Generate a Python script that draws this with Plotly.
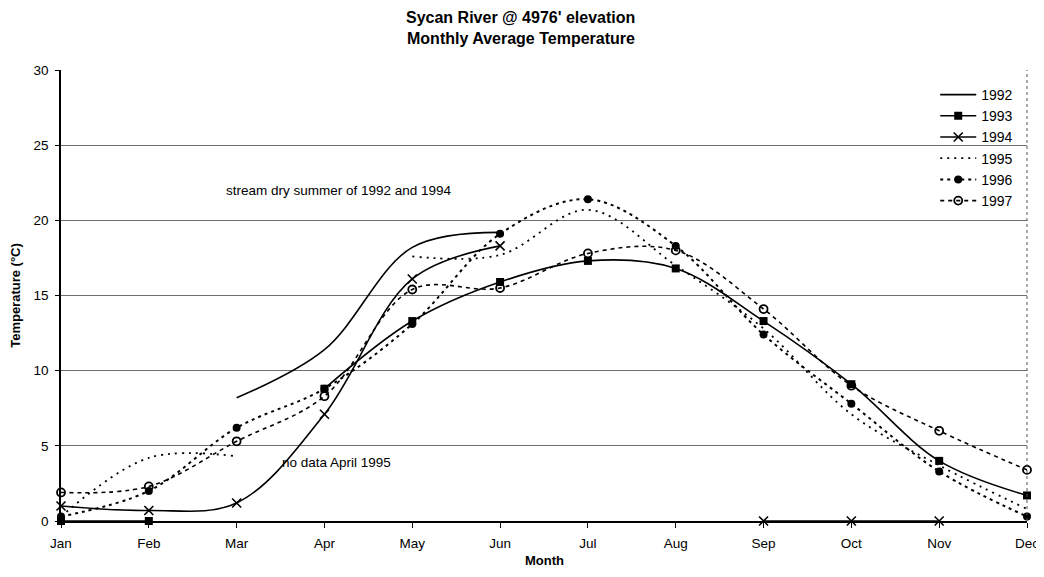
import plotly.graph_objects as go

months = ["Jan", "Feb", "Mar", "Apr", "May", "Jun", "Jul", "Aug", "Sep", "Oct", "Nov", "Dec"]

t1992 = [None, None, 8.2, 11.4, 18.2, 19.2, None, None, None, None, None, None]
t1993 = [0.0, 0.0, None, 8.8, 13.3, 15.9, 17.3, 16.8, 13.3, 9.1, 4.0, 1.7]
t1994 = [1.0, 0.7, 1.2, 7.1, 16.1, 18.3, None, None, 0.0, 0.0, 0.0, None]
t1995 = [0.3, 4.2, 4.3, None, 17.6, 17.7, 20.7, 17.0, 12.8, 7.1, 3.7, 0.8]
t1996 = [0.3, 2.0, 6.2, 8.8, 13.1, 19.1, 21.4, 18.3, 12.4, 7.8, 3.3, 0.3]
t1997 = [1.9, 2.3, 5.3, 8.3, 15.4, 15.5, 17.8, 18.0, 14.1, 9.0, 6.0, 3.4]

years = ["1992", "1993", "1994", "1995", "1996", "1997"]
yticks = [0, 5, 10, 15, 20, 25, 30]

FONT = "Liberation Sans, Arial, sans-serif"

# page body has an 8px margin; figure is sized so the plot area lands where the reference has it
W, H = 1036, 561
L, R, T, B = 53, 17, 62, 48
PH = H - T - B

fig = go.Figure()

styles = {
    "1992": dict(line=dict(color="black", width=1.6, shape="spline", smoothing=1.0), mode="lines"),
    "1993": dict(line=dict(color="black", width=1.6, shape="spline", smoothing=1.0), mode="lines+markers",
                 marker=dict(symbol="square", size=8, color="black")),
    "1994": dict(line=dict(color="black", width=1.6, shape="spline", smoothing=1.0), mode="lines+markers",
                 marker=dict(symbol="x-thin", size=9, color="black", line=dict(width=1.6, color="black"))),
    "1995": dict(line=dict(color="black", width=1.8, dash="2px,5px", shape="spline", smoothing=1.0), mode="lines"),
    "1996": dict(line=dict(color="black", width=2.0, dash="3px,4px", shape="spline", smoothing=1.0), mode="lines+markers",
                 marker=dict(symbol="circle", size=8, color="black")),
    "1997": dict(line=dict(color="black", width=1.6, dash="4px,4px", shape="spline", smoothing=1.0), mode="lines+markers",
                 marker=dict(symbol="circle-open", size=8, color="black", line=dict(width=1.8, color="black"))),
}

data = {"1992": t1992, "1993": t1993, "1994": t1994, "1995": t1995, "1996": t1996, "1997": t1997}

for y in years:
    fig.add_trace(go.Scatter(x=months, y=data[y], name=y, connectgaps=False, cliponaxis=False, **styles[y]))

fig.add_annotation(x=3.16, y=22.0, xref="x", yref="y", text="stream dry summer of 1992 and 1994",
                   showarrow=False, font=dict(family=FONT, size=13.5, color="black"))
fig.add_annotation(x=3.14, y=3.9, xref="x", yref="y", text="no data April 1995",
                   showarrow=False, font=dict(family=FONT, size=13.5, color="black"))

# two-line title
fig.add_annotation(x=0.476, y=1 + 53 / PH, xref="paper", yref="paper", xanchor="center", yanchor="middle",
                   text="<b>Sycan River @ 4976' elevation</b>", showarrow=False,
                   font=dict(family=FONT, size=16, color="black"))
fig.add_annotation(x=0.476, y=1 + 31 / PH, xref="paper", yref="paper", xanchor="center", yanchor="middle",
                   text="<b>Monthly Average Temperature</b>", showarrow=False,
                   font=dict(family=FONT, size=16, color="black"))

# x-axis title placed below the plot area
fig.add_annotation(x=0.5, y=-39 / PH, xref="paper", yref="paper", xanchor="center", yanchor="middle",
                   text="<b>Month</b>", showarrow=False, font=dict(family=FONT, size=13, color="black"))

fig.update_layout(
    width=W, height=H,
    margin=dict(l=L, r=R, t=T, b=B, autoexpand=False),
    paper_bgcolor="white", plot_bgcolor="white",
    font=dict(family=FONT, size=13, color="black"),
    legend=dict(x=0.905, y=0.98, xanchor="left", yanchor="top", bgcolor="rgba(0,0,0,0)",
                font=dict(family=FONT, size=14, color="black"), itemwidth=36, tracegroupgap=0),
    showlegend=True,
)

fig.update_xaxes(
    range=[0, 11], showgrid=False, showline=True, linecolor="black", linewidth=1.5,
    ticks="outside", ticklen=5, tickcolor="black", mirror=False, automargin=False,
    ticklabelstandoff=4,
    tickfont=dict(family=FONT, size=13.5),
)
fig.update_yaxes(
    range=[0, 30], tickvals=yticks, showgrid=True, gridcolor="#6e6e6e", gridwidth=1,
    showline=True, linecolor="black", linewidth=1.5, ticks="outside", ticklen=4, tickcolor="black",
    zeroline=False, automargin=False, ticklabelstandoff=4,
    title=dict(text="<b>Temperature (°C)</b>", font=dict(family=FONT, size=13), standoff=10),
    tickfont=dict(family=FONT, size=13.5),
)

# dotted right border of plot area
fig.add_shape(type="line", xref="paper", yref="paper", x0=1, x1=1, y0=0, y1=1,
              line=dict(color="#555555", width=1, dash="dot"))

fig.write_html("out.html")
